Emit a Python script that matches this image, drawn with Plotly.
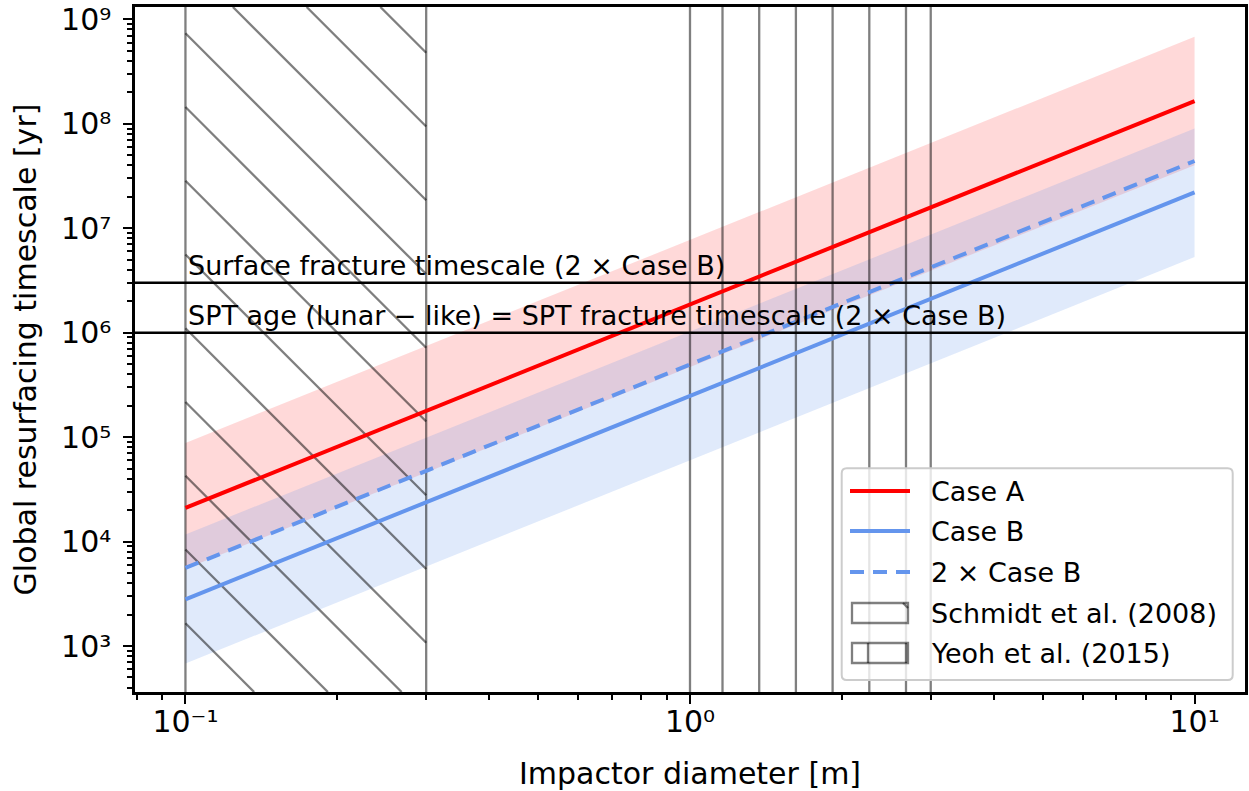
import numpy as np
import plotly.graph_objects as go

# ---------------- data ----------------
diameter = [0.1, 1.0, 10.0]
case_a = [2.1e4, 1.86e6, 1.65e8]
case_a_low = [5.5e3, 4.7e5, 4.0e7]
case_a_high = [8.8e4, 7.8e6, 6.8e8]
case_b = [2.8e3, 2.48e5, 2.2e7]
case_b_low = [6.8e2, 6.0e4, 5.3e6]
case_b_high = [1.17e4, 1.03e6, 9.0e7]
case_b_x2 = [5.6e3, 4.96e5, 4.4e7]
schmidt_range = [0.1, 0.3]
yeoh_range = [1.0, 3.0]
fracture_levels = [3e6, 1e6]
fracture_labels = ["Surface fracture timescale (2 × Case B)",
                   "SPT age (lunar − like) = SPT fracture timescale (2 × Case B)"]
legend_labels = ["Case A", "Case B", "2 × Case B", "Schmidt et al. (2008)", "Yeoh et al. (2015)"]
x_tick_exponents = [-1, 0, 1]
y_tick_exponents = [3, 4, 5, 6, 7, 8, 9]
x_label = "Impactor diameter [m]"
y_label = "Global resurfacing timescale [yr]"

# ---------------- geometry ----------------
W, H = 1249, 791
L, R, T, B = 135, 4, 7, 99
PW, PH = W - L - R, H - T - B
XR = [-1.1, 1.1]
YR = [2.56, 9.118]
FONT = "DejaVu Sans"
FS = 27      # annotations / legend
FS_AX = 30   # tick labels / axis titles
RED = "#ff0000"
BLUE = "#6495ed"
HATCH = "rgba(0,0,0,0.5)"
SUP = str.maketrans("-0123456789", "\u207b\u2070\u00b9\u00b2\u00b3\u2074\u2075\u2076\u2077\u2078\u2079")


def px_x(v):
    return L + (np.log10(v) - XR[0]) / (XR[1] - XR[0]) * PW


def data_x(p):
    return 10 ** (XR[0] + (p - L) / PW * (XR[1] - XR[0]))


def data_y(p):
    return 10 ** (YR[1] - (p - T) / PH * (YR[1] - YR[0]))


def paper_x(p):
    return (p - L) / PW


def paper_y(p):
    return (T + PH - p) / PH


def pow_label(e):
    return "10" + str(e).translate(SUP)


fig = go.Figure()

# bands
fig.add_trace(go.Scatter(x=diameter + diameter[::-1], y=case_a_high + case_a_low[::-1],
                         fill="toself", fillcolor="rgba(255,0,0,0.15)", line=dict(width=0),
                         mode="lines", showlegend=False, hoverinfo="skip"))
fig.add_trace(go.Scatter(x=diameter + diameter[::-1], y=case_b_high + case_b_low[::-1],
                         fill="toself", fillcolor="rgba(100,149,237,0.2)", line=dict(width=0),
                         mode="lines", showlegend=False, hoverinfo="skip"))

# hatched regions
y_top, y_bot = data_y(T), data_y(T + PH)
hx, hy = [], []
# diagonal hatch (Schmidt)
xl, xr = px_x(schmidt_range[0]), px_x(schmidt_range[1])
spacing = 73.75
for k in range(-10, 20):
    y0 = T + 26.3 + spacing * k  # y at left edge
    c = y0 - xl
    xa = max(xl, T - c)
    xb = min(xr, T + PH - c)
    if xa < xb:
        hx += [data_x(xa), data_x(xb), None]
        hy += [data_y(xa + c), data_y(xb + c), None]
# vertical hatch (Yeoh)
xl2, xr2 = px_x(yeoh_range[0]), px_x(yeoh_range[1])
p = xl2 + 32.5
while p < xr2 - 5:
    hx += [data_x(p), data_x(p), None]
    hy += [y_top, y_bot, None]
    p += 36.7
# region edges
for v in schmidt_range + yeoh_range:
    hx += [v, v, None]
    hy += [y_top, y_bot, None]
fig.add_trace(go.Scatter(x=hx, y=hy, mode="lines", line=dict(color=HATCH, width=2.3),
                         showlegend=False, hoverinfo="skip"))

# lines
fig.add_trace(go.Scatter(x=diameter, y=case_a, mode="lines", line=dict(color=RED, width=4),
                         name=legend_labels[0], showlegend=False))
fig.add_trace(go.Scatter(x=diameter, y=case_b, mode="lines", line=dict(color=BLUE, width=4),
                         name=legend_labels[1], showlegend=False))
fig.add_trace(go.Scatter(x=diameter, y=case_b_x2, mode="lines",
                         line=dict(color=BLUE, width=4, dash="14px,9px"),
                         name=legend_labels[2], showlegend=False))

# horizontal reference lines
for lvl in fracture_levels:
    fig.add_trace(go.Scatter(x=[data_x(L), data_x(L + PW)], y=[lvl, lvl], mode="lines",
                             line=dict(color="black", width=2.5), showlegend=False, hoverinfo="skip"))

annotations = []
for lvl, txt in zip(fracture_levels, fracture_labels):
    annotations.append(dict(x=np.log10(schmidt_range[0]), y=np.log10(lvl), xref="x", yref="y",
                            text=txt, showarrow=False, xanchor="left", yanchor="bottom",
                            xshift=1, yshift=0, font=dict(family=FONT, size=FS, color="black")))

# ---------------- manual legend ----------------
shapes = []
lx0, lx1, ly0, ly1, rad = 841.7, 1232.7, 468.3, 680.0, 5
rx, ry = rad / PW, rad / PH
X0, X1, Y0, Y1 = paper_x(lx0), paper_x(lx1), paper_y(ly0), paper_y(ly1)
path = (f"M {X0+rx},{Y0} L {X1-rx},{Y0} Q {X1},{Y0} {X1},{Y0-ry} "
        f"L {X1},{Y1+ry} Q {X1},{Y1} {X1-rx},{Y1} L {X0+rx},{Y1} Q {X0},{Y1} {X0},{Y1+ry} "
        f"L {X0},{Y0-ry} Q {X0},{Y0} {X0+rx},{Y0} Z")
shapes.append(dict(type="path", xref="paper", yref="paper", path=path,
                   fillcolor="rgba(255,255,255,0.8)", line=dict(color="#cccccc", width=2),
                   layer="above"))
rows = [491, 531, 572, 613, 653]
styles = [(RED, "solid"), (BLUE, "solid"), (BLUE, "14px,9px")]
for (col, dash), yy in zip(styles, rows[:3]):
    shapes.append(dict(type="line", xref="paper", yref="paper",
                       x0=paper_x(850), x1=paper_x(910), y0=paper_y(yy), y1=paper_y(yy),
                       line=dict(color=col, width=4, dash=dash), layer="above"))
for yy in rows[3:]:
    shapes.append(dict(type="rect", xref="paper", yref="paper",
                       x0=paper_x(852), x1=paper_x(908), y0=paper_y(yy - 10), y1=paper_y(yy + 10),
                       line=dict(color=HATCH, width=2.3), fillcolor="rgba(0,0,0,0)", layer="above"))
# legend hatch marks
shapes.append(dict(type="line", xref="paper", yref="paper",
                   x0=paper_x(903), x1=paper_x(908), y0=paper_y(rows[3] - 10), y1=paper_y(rows[3] - 5),
                   line=dict(color=HATCH, width=2.3), layer="above"))
for xx in [868, 906]:
    shapes.append(dict(type="line", xref="paper", yref="paper",
                       x0=paper_x(xx), x1=paper_x(xx), y0=paper_y(rows[4] - 10), y1=paper_y(rows[4] + 10),
                       line=dict(color=HATCH, width=2.3), layer="above"))
for lab, yy in zip(legend_labels, rows):
    annotations.append(dict(x=paper_x(929), y=paper_y(yy), xref="paper", yref="paper", text=lab,
                            showarrow=False, xanchor="left", yanchor="middle",
                            font=dict(family=FONT, size=FS, color="black")))

axis_common = dict(type="log", showline=True, mirror=True, linecolor="black", linewidth=2.5,
                   ticks="outside", ticklen=9, tickwidth=2.2, tickcolor="black",
                   showgrid=False, zeroline=False,
                   tickfont=dict(family=FONT, size=FS_AX, color="black"),
                   minor=dict(ticks="outside", ticklen=5, tickwidth=1.6, tickcolor="black",
                              dtick="D1", showgrid=False))

fig.update_layout(
    width=W, height=H,
    margin=dict(l=L, r=R, t=T, b=B, autoexpand=False),
    paper_bgcolor="white", plot_bgcolor="white",
    showlegend=False,
    font=dict(family=FONT, size=FS, color="black"),
    xaxis=dict(range=XR, tickmode="array",
               tickvals=[10.0 ** e for e in x_tick_exponents],
               ticktext=[pow_label(e) for e in x_tick_exponents],
               ticklabelstandoff=-8,
               title=dict(text=x_label, font=dict(family=FONT, size=FS_AX), standoff=26),
               **axis_common),
    yaxis=dict(range=YR, tickmode="array",
               tickvals=[10.0 ** e for e in y_tick_exponents],
               ticktext=[pow_label(e) for e in y_tick_exponents],
               ticklabelstandoff=6,
               title=dict(text=y_label, font=dict(family=FONT, size=FS_AX), standoff=16),
               **axis_common),
    shapes=shapes,
    annotations=annotations,
)

fig.write_html("out.html")
